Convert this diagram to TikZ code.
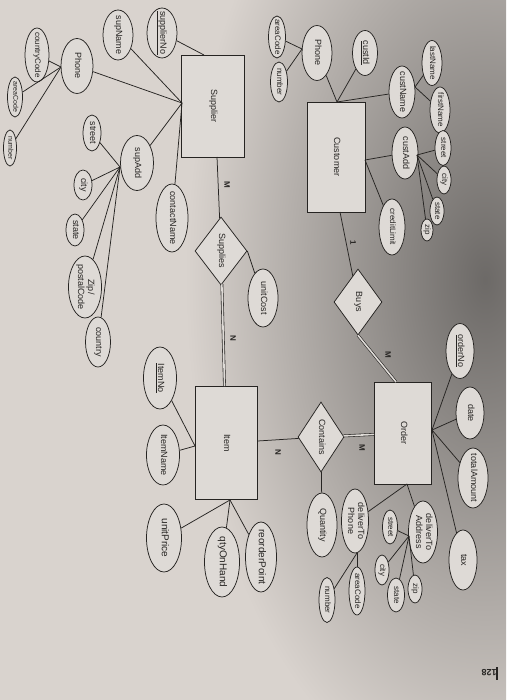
\documentclass[tikz,border=0pt]{standalone}
\usepackage{fontspec}
\setmainfont{Liberation Sans}
\usetikzlibrary{shapes.geometric}
\definecolor{bgc}{HTML}{D9D3CE}
\definecolor{shapec}{HTML}{DEDAD6}
\definecolor{inkc}{HTML}{262422}
\newcommand{\ct}[1]{\vbox to0pt{\vss\hbox to0pt{\hss\begin{tabular}{@{}c@{}}#1\end{tabular}\hss}\vss}}
\begin{document}
\begin{tikzpicture}[x=1pt,y=-1pt,
 every node/.style={text=inkc, font=\fontsize{9}{10}\selectfont},
 attr/.style 2 args={ellipse, draw=inkc, fill=shapec, line width=0.75pt, rotate=-90, inner sep=0pt, minimum width=#1, minimum height=#2},
 ent/.style 2 args={rectangle, draw=inkc, fill=shapec, line width=0.75pt, rotate=-90, inner sep=0pt, minimum width=#1, minimum height=#2},
 rel/.style 2 args={diamond, draw=inkc, fill=shapec, line width=0.75pt, rotate=-90, inner sep=0pt, minimum width=#1, minimum height=#2},
 conn/.style={draw=inkc, line width=0.75pt},
 dbl/.style={draw=inkc, line width=0.6pt, double=shapec, double distance=1.6pt},
 card/.style={rotate=-90, font=\fontsize{8}{9}\selectfont\bfseries},
 sm/.style={font=\fontsize{8}{9}\selectfont},
 xs/.style={font=\fontsize{7}{8}\selectfont},
 lg/.style={font=\fontsize{10}{11}\selectfont}
]
\useasboundingbox (0,0) rectangle (506,700);
\fill[bgc] (0,0) rectangle (506,700);
\begin{scope}
\clip (0,0) rectangle (506,700);
\shade[inner color=black!50!bgc, outer color=bgc] (485,280) ellipse (300 and 520);
\end{scope}

% ---------- Supplier side ----------
\node[ent={102}{63}] (supplier) at (213,106) {\ct{Supplier}};
\node[attr={50}{30}] (supNo) at (162,33) {\ct{\underline{supplierNo}}};
\node[attr={50}{30}] (supName) at (118,35) {\ct{supName}};
\node[attr={55}{32}] (sPhone) at (77,66) {\ct{Phone}};
\node[attr={54}{24},sm] (sCC) at (37,55) {\ct{countryCode}};
\node[attr={40}{15},xs] (sArea) at (15,97) {\ct{areaCode}};
\node[attr={36}{13},xs] (sNum) at (10,148) {\ct{number}};
\node[attr={55}{33}] (supAdd) at (137,163) {\ct{supAdd}};
\node[attr={36}{18}] (sStreet) at (92,133) {\ct{street}};
\node[attr={30}{18}] (sCity) at (83,185) {\ct{city}};
\node[attr={32}{18}] (sState) at (75,230) {\ct{state}};
\node[attr={62}{33}] (sZip) at (85,287) {\ct{Zip/\\postalCode}};
\node[attr={50}{25}] (sCountry) at (98,342) {\ct{country}};
\node[attr={68}{32}] (contact) at (172,218) {\ct{contactName}};
\node[rel={68}{52}] (supplies) at (221,251) {\ct{Supplies}};
\node[attr={58}{30}] (unitCost) at (263,298) {\ct{unitCost}};
\node[ent={113}{62}] (item) at (226,443) {\ct{Item}};
\node[attr={62}{33}] (itemNo) at (160,378) {\ct{\underline{ItemNo}}};
\node[attr={60}{33}] (itemName) at (163,455) {\ct{ItemName}};
\node[attr={68}{35},lg] (unitPrice) at (164,538) {\ct{unitPrice}};
\node[attr={70}{35},lg] (qty) at (222,562) {\ct{qtyOnHand}};
\node[attr={70}{31},lg] (reorder) at (261,557) {\ct{reorderPoint}};

% ---------- Customer side ----------
\node[ent={110}{58}] (customer) at (336,157) {\ct{Customer}};
\node[attr={45}{25}] (custId) at (365,53) {\ct{\underline{custId}}};
\node[attr={55}{30}] (cPhone) at (317,53) {\ct{Phone}};
\node[attr={42}{17},sm] (cArea) at (277,37) {\ct{areaCode}};
\node[attr={40}{17},sm] (cNum) at (279,82) {\ct{number}};
\node[attr={52}{26}] (custName) at (402,92) {\ct{custName}};
\node[attr={45}{20},sm] (lastName) at (432,63) {\ct{lastName}};
\node[attr={46}{20},sm] (firstName) at (440,110) {\ct{firstName}};
\node[attr={52}{26}] (custAdd) at (405,153) {\ct{custAdd}};
\node[attr={35}{16},sm] (cStreet) at (443,148) {\ct{street}};
\node[attr={28}{14},sm] (cCity) at (444,180) {\ct{city}};
\node[attr={28}{14},sm] (cState) at (437,211) {\ct{state}};
\node[attr={22}{12},sm] (cZip) at (427,230) {\ct{zip}};
\node[attr={56}{26},sm] (credit) at (392,227) {\ct{creditLimit}};
\node[rel={66}{48}] (buys) at (358,302) {\ct{Buys}};
\node[ent={102}{57}] (order) at (403,433) {\ct{Order}};
\node[attr={55}{28}] (orderNo) at (460,351) {\ct{\underline{orderNo}}};
\node[attr={52}{28}] (date) at (470,413) {\ct{date}};
\node[attr={60}{30}] (total) at (473,478) {\ct{totalAmount}};
\node[attr={60}{28}] (tax) at (463,560) {\ct{tax}};
\node[rel={70}{46}] (contains) at (321,437) {\ct{Contains}};
\node[attr={64}{30}] (quantity) at (322,525) {\ct{Quantity}};
\node[attr={64}{27}] (delPhone) at (355,521) {\ct{deliverTo\\Phone}};
\node[attr={62}{29}] (delAddr) at (423,532) {\ct{deliverTo\\Address}};
\node[attr={34}{15},sm] (oStreet) at (390,527) {\ct{street}};
\node[attr={30}{14},sm] (oCity) at (382,570) {\ct{city}};
\node[attr={34}{17},sm] (oState) at (396,595) {\ct{state}};
\node[attr={28}{14},sm] (oZip) at (415,589) {\ct{zip}};
\node[attr={48}{16},sm] (oArea) at (357,591) {\ct{areaCode}};
\node[attr={45}{16},sm] (oNum) at (327,600) {\ct{number}};

% ---------- junctions ----------
\coordinate (sJa) at (204,55);
\coordinate (sJ) at (182,103);
\coordinate (sB) at (217,157);
\coordinate (sPJ) at (61,67);
\coordinate (saJ) at (120,167);
\coordinate (iL) at (195,446);
\coordinate (iJ) at (230,500);
\coordinate (cJ) at (337,102);
\coordinate (cPJ) at (302,49);
\coordinate (cNJ) at (415,87);
\coordinate (cAJ) at (417,155);
\coordinate (cRJ) at (365,160);
\coordinate (cB) at (340,212);
\coordinate (oT) at (396,382);
\coordinate (oJ) at (432,430);
\coordinate (oBJ) at (407,484);
\coordinate (dAJ) at (409,536);
\coordinate (dPJ) at (357,553);

% ---------- connectors ----------
\draw[conn] (supNo) -- (sJa);
\foreach \n in {supName,sPhone,supAdd,contact} \draw[conn] (\n) -- (sJ);
\draw[conn] (sB) -- (supplies);
\foreach \n in {sCC,sArea,sNum} \draw[conn] (sPJ) -- (\n);
\foreach \n in {sStreet,sCity,sState,sZip,sCountry} \draw[conn] (saJ) -- (\n);
\draw[dbl] (supplies) -- (item);
\draw[conn] (supplies.north) -- (unitCost);
\foreach \n in {itemNo,itemName} \draw[conn] (\n) -- (iL);
\foreach \n in {unitPrice,qty,reorder} \draw[conn] (iJ) -- (\n);
\draw[conn] (item) -- (contains);
\draw[dbl] (contains) -- (order);
\draw[conn] (contains) -- (quantity);
\foreach \n in {custId,cPhone,custName} \draw[conn] (\n) -- (cJ);
\foreach \n in {cArea,cNum} \draw[conn] (cPJ) -- (\n);
\foreach \n in {lastName,firstName} \draw[conn] (cNJ) -- (\n);
\foreach \n in {cStreet,cCity,cState,cZip} \draw[conn] (cAJ) -- (\n);
\foreach \n in {custAdd,credit} \draw[conn] (cRJ) -- (\n);
\draw[conn] (cB) -- (buys);
\draw[dbl] (buys.east) -- (oT);
\foreach \n in {orderNo,date,total,tax} \draw[conn] (oJ) -- (\n);
\foreach \n in {delPhone,delAddr} \draw[conn] (oBJ) -- (\n);
\foreach \n in {oStreet,oCity,oState,oZip} \draw[conn] (dAJ) -- (\n);
\foreach \n in {oArea,oNum} \draw[conn] (dPJ) -- (\n);

% ---------- cardinalities ----------
\node[card] (m1) at (227,185) {M};
\node[card] (n1) at (233,338) {N};
\node[card] (one) at (353,243) {1};
\node[card] (m2) at (388,355) {M};
\node[card] (n2) at (278,452) {N};
\node[card] (m3) at (362,448) {M};

% ---------- page number ----------
\node[rotate=180, font=\fontsize{9}{10}\selectfont\bfseries] (pg) at (489,673) {128};
\draw[line width=1.5pt, draw=inkc] (497,667) -- (497,680);
\end{tikzpicture}
\end{document}
